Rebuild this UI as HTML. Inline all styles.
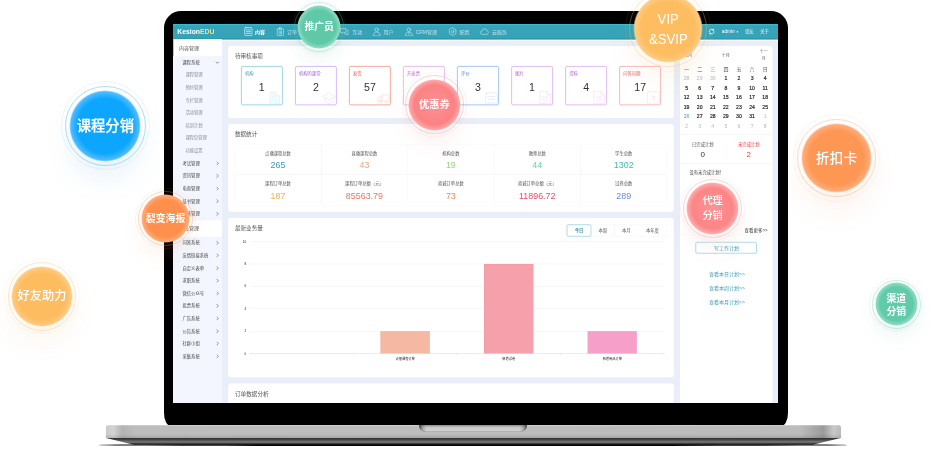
<!DOCTYPE html>
<html lang="zh-CN">
<head>
<meta charset="utf-8">
<title>KesionEDU</title>
<style>
html,body{margin:0;padding:0;background:#fff;}
body{width:934px;height:454px;overflow:hidden;position:relative;font-family:"Liberation Sans","Noto Sans CJK SC",sans-serif;}
.stage{position:absolute;left:0;top:0;width:934px;height:454px;overflow:hidden;background:#fff;}
.bezel{position:absolute;left:163.8px;top:11.3px;width:624.1px;height:414.3px;background:#000;border-radius:17px 17px 7px 7px / 17px 17px 13px 13px;}
.screen{position:absolute;left:172.9px;top:24px;width:605.3px;height:378.8px;overflow:hidden;background:#fff;}
.dash{position:absolute;left:-172.9px;top:-24px;width:3736px;height:1816px;transform:scale(.25);transform-origin:0 0;}
.a{position:absolute;}
.t{position:absolute;white-space:nowrap;}
.base{position:absolute;left:105.8px;top:425.2px;width:735px;height:13px;border-radius:2.5px 2.5px 0 0;
 background:linear-gradient(90deg,#c9c9c9 0,#d4d4d4 1%,#b3b3b3 2.2%,#bdbdbd 4%,#bcbcbc 94.5%,#9a9a9a 97.6%,#c8c8c8 99%,#bababa 100%);}
.base:before{content:"";position:absolute;left:0;right:0;top:0;height:13px;border-radius:2.5px 2.5px 0 0;
 background:linear-gradient(180deg,rgba(255,255,255,.35) 0,rgba(255,255,255,0) 12%,rgba(0,0,0,0) 70%,rgba(0,0,0,.12) 100%);}
.under{position:absolute;left:106px;top:437.9px;width:734.6px;height:6.9px;
 background:linear-gradient(180deg,#2e2e2e 0,#454545 25%,#7c7c7c 58%,#3a3a3a 80%,#050505 100%);
 clip-path:polygon(0 0,100% 0,96.2% 100%,3.8% 100%);}
.shadow{position:absolute;left:98px;top:443.9px;width:750px;height:2.6px;border-radius:50%;background:#050505;filter:blur(.5px);}
.notch{position:absolute;left:418.9px;top:425.2px;width:108px;height:6.5px;border-radius:0 0 6.5px 6.5px;
 background:linear-gradient(90deg,rgba(30,30,30,.75) 0,rgba(60,60,60,.25) 3.5%,rgba(60,60,60,0) 7%,rgba(60,60,60,0) 93%,rgba(60,60,60,.25) 96.5%,rgba(30,30,30,.75) 100%),linear-gradient(180deg,#8a8a8a 0,#c4c4c4 30%,#d3d3d3 70%,#c6c6c6 100%);box-shadow:inset 0 -0.6px .8px rgba(0,0,0,.22);}
.bub{position:absolute;border-radius:50%;color:#fff;text-align:center;display:flex;align-items:center;justify-content:center;white-space:nowrap;}
.bub b{position:absolute;border-radius:50%;border-style:solid;border-width:.8px;}
.bub .r2{border-width:1.3px;}
.bub span{position:relative;}
.bub i{font-style:normal;display:inline-block;transform:scaleX(.87);}
</style>
</head>
<body>
<div class="stage">
<div class="shadow"></div>
<div class="bezel"></div>
<div class="screen"><div class="dash">
<div class="a" style="left:691.6px;top:96px;width:2421.2px;height:1515.2px;background:#e9eef9;"></div>
<div class="a" style="left:691.6px;top:96px;width:2421.2px;height:63.4px;background:linear-gradient(180deg,#3fbdd2 0,#3cb0c6 6%,#37a3b8 11%,#37a3b8 88%,#2b96ab 93%,#2a94aa 100%);"></div>
<div class="a" style="left:691.6px;top:159.4px;width:2421.2px;height:4.6px;background:#fbfcff;"></div>
<div class="t" style="left:709.2px;top:106px;line-height:40.8px;font-size:27.2px;color:#fff;font-weight:700;"><span>Kesion</span><span style="color:#ece48a">EDU</span></div>
<svg class="a" style="left:975.6px;top:108px;opacity:1.0;" width="35.2" height="37.2" viewBox="1 0 22 24" fill="none"><rect x="2.5" y="1.5" width="19" height="21" rx="3" stroke="#fff" stroke-width="1.6" stroke-linecap="round" stroke-linejoin="round"/><path d="M6.5 7.5h11M6.5 12h11M6.5 16.5h11" stroke="#fff" stroke-width="1.6" stroke-linecap="round" stroke-linejoin="round"/></svg>
<div class="t" style="left:1020.4px;top:112.2px;line-height:30px;font-size:20px;color:#fff;font-weight:700;opacity:1.0;">内容</div>
<svg class="a" style="left:1104.4px;top:108px;opacity:0.72;" width="35.2" height="37.2" viewBox="1 0 22 24" fill="none"><rect x="4" y="5" width="16" height="17" rx="2" stroke="#fff" stroke-width="1.6" stroke-linecap="round" stroke-linejoin="round"/><rect x="9" y="2" width="6" height="5" rx="1" stroke="#fff" stroke-width="1.6" stroke-linecap="round" stroke-linejoin="round"/><path d="M9 11v7M12 11v7M15 11v7" stroke="#fff" stroke-width="1.6" stroke-linecap="round" stroke-linejoin="round"/></svg>
<div class="t" style="left:1148px;top:112.2px;line-height:30px;font-size:20px;color:#fff;font-weight:400;opacity:0.66;">订单</div>
<svg class="a" style="left:1232.4px;top:108px;opacity:0.72;" width="35.2" height="37.2" viewBox="1 0 22 24" fill="none"><path d="M5 8h14l1 13H4z" stroke="#fff" stroke-width="1.6" stroke-linecap="round" stroke-linejoin="round"/><path d="M9 8V6a3 3 0 0 1 6 0v2" stroke="#fff" stroke-width="1.6" stroke-linecap="round" stroke-linejoin="round"/></svg>
<div class="t" style="left:1277.6px;top:112.2px;line-height:30px;font-size:20px;color:#fff;font-weight:400;opacity:0.66;">课程</div>
<svg class="a" style="left:1360px;top:108px;opacity:0.72;" width="35.2" height="37.2" viewBox="1 0 22 24" fill="none"><path d="M3 4h13v10H9l-3 3v-3H3z" stroke="#fff" stroke-width="1.6" stroke-linecap="round" stroke-linejoin="round"/><path d="M19 8h3v10h-2v3l-3-3h-5" stroke="#fff" stroke-width="1.6" stroke-linecap="round" stroke-linejoin="round"/></svg>
<div class="t" style="left:1408.8px;top:112.2px;line-height:30px;font-size:20px;color:#fff;font-weight:400;opacity:0.66;">互动</div>
<svg class="a" style="left:1489.2px;top:108px;opacity:0.72;" width="35.2" height="37.2" viewBox="1 0 22 24" fill="none"><circle cx="12" cy="7" r="4.5" stroke="#fff" stroke-width="1.6" stroke-linecap="round" stroke-linejoin="round"/><path d="M3 22c0-6 4-9 9-9s9 3 9 9z" stroke="#fff" stroke-width="1.6" stroke-linecap="round" stroke-linejoin="round"/></svg>
<div class="t" style="left:1534px;top:112.2px;line-height:30px;font-size:20px;color:#fff;font-weight:400;opacity:0.66;">用户</div>
<svg class="a" style="left:1618.4px;top:108px;opacity:0.72;" width="35.2" height="37.2" viewBox="1 0 22 24" fill="none"><circle cx="12" cy="7" r="4.5" stroke="#fff" stroke-width="1.6" stroke-linecap="round" stroke-linejoin="round"/><path d="M3 22c0-6 4-9 9-9s9 3 9 9z" stroke="#fff" stroke-width="1.6" stroke-linecap="round" stroke-linejoin="round"/><path d="M12 14v5" stroke="#fff" stroke-width="1.6" stroke-linecap="round" stroke-linejoin="round"/></svg>
<div class="t" style="left:1662.8px;top:112.2px;line-height:30px;font-size:20px;color:#fff;font-weight:400;opacity:0.66;">CRM管理</div>
<svg class="a" style="left:1793.2px;top:108px;opacity:0.72;" width="35.2" height="37.2" viewBox="1 0 22 24" fill="none"><path d="M12 2l8.5 5v10L12 22l-8.5-5V7z" stroke="#fff" stroke-width="1.6" stroke-linecap="round" stroke-linejoin="round"/><circle cx="12" cy="12" r="3.4" stroke="#fff" stroke-width="1.6" stroke-linecap="round" stroke-linejoin="round"/></svg>
<div class="t" style="left:1838px;top:112.2px;line-height:30px;font-size:20px;color:#fff;font-weight:400;opacity:0.66;">配置</div>
<svg class="a" style="left:1919.6px;top:108px;opacity:0.72;" width="35.2" height="37.2" viewBox="1 0 22 24" fill="none"><path d="M6.5 19a4.5 4.5 0 0 1-.6-8.96A6.5 6.5 0 0 1 18.6 9.5 4.8 4.8 0 0 1 18 19z" stroke="#fff" stroke-width="1.6" stroke-linecap="round" stroke-linejoin="round"/></svg>
<div class="t" style="left:1968px;top:112.2px;line-height:30px;font-size:20px;color:#fff;font-weight:400;opacity:0.66;">云服务</div>
<svg class="a" style="left:2831.6px;top:111.6px;" width="28.8" height="28.8" viewBox="0 0 24 24" fill="none"><path d="M4 12a8 8 0 0 1 14-5.3M20 12a8 8 0 0 1-14 5.3" stroke="#fff" stroke-width="2.6" stroke-linecap="round"/><path d="M19 2v6h-6M5 22v-6h6" fill="#fff"/></svg>
<div class="t" style="left:2887.2px;top:112.5px;line-height:28.5px;font-size:19px;color:#fff;">admin <span style="font-size:.62em;position:relative;top:-.1em">&#9660;</span></div>
<div class="t" style="left:2980px;top:113.9px;line-height:25.8px;font-size:17.2px;color:#fff;">论坛</div>
<div class="t" style="left:3040.8px;top:113.9px;line-height:25.8px;font-size:17.2px;color:#fff;">关于</div>
<div class="a" style="left:691.6px;top:157.2px;width:196.8px;height:1454px;background:#f3f6fe;"></div>
<div class="a" style="left:691.6px;top:157.2px;width:196.8px;height:66.8px;background:#fff;"></div>
<div class="a" style="left:691.6px;top:157.2px;width:2.8px;height:66.8px;background:#37a3b8;"></div>
<div class="t" style="left:716px;top:177px;line-height:30px;font-size:20px;color:#555;">内容管理</div>
<div class="t" style="left:728.8px;top:236px;line-height:26.4px;font-size:17.6px;color:#444;">课程系统</div>
<svg class="a" style="left:861.6px;top:242px;" width="15.2" height="15.2" viewBox="0 0 12 12" fill="none"><path d="M1 4l5 5 5-5" stroke="#444" stroke-width="1.7" stroke-linecap="round" stroke-linejoin="round"/></svg>
<div class="t" style="left:741.6px;top:286.7px;line-height:25.8px;font-size:17.2px;color:#8a8f99;">课程管理</div>
<div class="t" style="left:741.6px;top:337.2px;line-height:25.8px;font-size:17.2px;color:#8a8f99;">预约管理</div>
<div class="t" style="left:741.6px;top:387.7px;line-height:25.8px;font-size:17.2px;color:#8a8f99;">专栏管理</div>
<div class="t" style="left:741.6px;top:438.1px;line-height:25.8px;font-size:17.2px;color:#8a8f99;">活动管理</div>
<div class="t" style="left:741.6px;top:488.6px;line-height:25.8px;font-size:17.2px;color:#8a8f99;">培训计划</div>
<div class="t" style="left:741.6px;top:539.1px;line-height:25.8px;font-size:17.2px;color:#8a8f99;">课程包管理</div>
<div class="t" style="left:741.6px;top:589.6px;line-height:25.8px;font-size:17.2px;color:#8a8f99;">功能设置</div>
<div class="t" style="left:730px;top:640.7px;line-height:25.8px;font-size:17.2px;color:#444;">考试管理</div>
<svg class="a" style="left:862.4px;top:646px;" width="15.2" height="15.2" viewBox="0 0 12 12" fill="none"><path d="M4 1l5 5-5 5" stroke="#444" stroke-width="1.7" stroke-linecap="round" stroke-linejoin="round"/></svg>
<div class="t" style="left:730px;top:691.1px;line-height:25.8px;font-size:17.2px;color:#444;">资讯管理</div>
<svg class="a" style="left:862.4px;top:696.4px;" width="15.2" height="15.2" viewBox="0 0 12 12" fill="none"><path d="M4 1l5 5-5 5" stroke="#444" stroke-width="1.7" stroke-linecap="round" stroke-linejoin="round"/></svg>
<div class="t" style="left:730px;top:741.5px;line-height:25.8px;font-size:17.2px;color:#444;">电商管理</div>
<svg class="a" style="left:862.4px;top:746.8px;" width="15.2" height="15.2" viewBox="0 0 12 12" fill="none"><path d="M4 1l5 5-5 5" stroke="#444" stroke-width="1.7" stroke-linecap="round" stroke-linejoin="round"/></svg>
<div class="t" style="left:730px;top:791.9px;line-height:25.8px;font-size:17.2px;color:#444;">证书管理</div>
<svg class="a" style="left:862.4px;top:797.2px;" width="15.2" height="15.2" viewBox="0 0 12 12" fill="none"><path d="M4 1l5 5-5 5" stroke="#444" stroke-width="1.7" stroke-linecap="round" stroke-linejoin="round"/></svg>
<div class="t" style="left:730px;top:842.3px;line-height:25.8px;font-size:17.2px;color:#444;">问答管理</div>
<svg class="a" style="left:862.4px;top:847.6px;" width="15.2" height="15.2" viewBox="0 0 12 12" fill="none"><path d="M4 1l5 5-5 5" stroke="#444" stroke-width="1.7" stroke-linecap="round" stroke-linejoin="round"/></svg>
<div class="a" style="left:691.6px;top:882.4px;width:196.8px;height:64.8px;background:#fff;"></div>
<div class="t" style="left:716px;top:899px;line-height:30px;font-size:20px;color:#555;">会员管理</div>
<div class="t" style="left:730px;top:958.7px;line-height:25.8px;font-size:17.2px;color:#444;">问答系统</div>
<svg class="a" style="left:862.4px;top:964px;" width="15.2" height="15.2" viewBox="0 0 12 12" fill="none"><path d="M4 1l5 5-5 5" stroke="#444" stroke-width="1.7" stroke-linecap="round" stroke-linejoin="round"/></svg>
<div class="t" style="left:730px;top:1009.1px;line-height:25.8px;font-size:17.2px;color:#444;">友情链接系统</div>
<svg class="a" style="left:862.4px;top:1014.4px;" width="15.2" height="15.2" viewBox="0 0 12 12" fill="none"><path d="M4 1l5 5-5 5" stroke="#444" stroke-width="1.7" stroke-linecap="round" stroke-linejoin="round"/></svg>
<div class="t" style="left:730px;top:1059.5px;line-height:25.8px;font-size:17.2px;color:#444;">自定义表单</div>
<svg class="a" style="left:862.4px;top:1064.8px;" width="15.2" height="15.2" viewBox="0 0 12 12" fill="none"><path d="M4 1l5 5-5 5" stroke="#444" stroke-width="1.7" stroke-linecap="round" stroke-linejoin="round"/></svg>
<div class="t" style="left:730px;top:1109.9px;line-height:25.8px;font-size:17.2px;color:#444;">求职系统</div>
<svg class="a" style="left:862.4px;top:1115.2px;" width="15.2" height="15.2" viewBox="0 0 12 12" fill="none"><path d="M4 1l5 5-5 5" stroke="#444" stroke-width="1.7" stroke-linecap="round" stroke-linejoin="round"/></svg>
<div class="t" style="left:730px;top:1160.3px;line-height:25.8px;font-size:17.2px;color:#444;">微信公众号</div>
<svg class="a" style="left:862.4px;top:1165.6px;" width="15.2" height="15.2" viewBox="0 0 12 12" fill="none"><path d="M4 1l5 5-5 5" stroke="#444" stroke-width="1.7" stroke-linecap="round" stroke-linejoin="round"/></svg>
<div class="t" style="left:730px;top:1210.7px;line-height:25.8px;font-size:17.2px;color:#444;">投票系统</div>
<svg class="a" style="left:862.4px;top:1216px;" width="15.2" height="15.2" viewBox="0 0 12 12" fill="none"><path d="M4 1l5 5-5 5" stroke="#444" stroke-width="1.7" stroke-linecap="round" stroke-linejoin="round"/></svg>
<div class="t" style="left:730px;top:1261.1px;line-height:25.8px;font-size:17.2px;color:#444;">广告系统</div>
<svg class="a" style="left:862.4px;top:1266.4px;" width="15.2" height="15.2" viewBox="0 0 12 12" fill="none"><path d="M4 1l5 5-5 5" stroke="#444" stroke-width="1.7" stroke-linecap="round" stroke-linejoin="round"/></svg>
<div class="t" style="left:730px;top:1311.5px;line-height:25.8px;font-size:17.2px;color:#444;">公告系统</div>
<svg class="a" style="left:862.4px;top:1316.8px;" width="15.2" height="15.2" viewBox="0 0 12 12" fill="none"><path d="M4 1l5 5-5 5" stroke="#444" stroke-width="1.7" stroke-linecap="round" stroke-linejoin="round"/></svg>
<div class="t" style="left:730px;top:1361.9px;line-height:25.8px;font-size:17.2px;color:#444;">社群小组</div>
<svg class="a" style="left:862.4px;top:1367.2px;" width="15.2" height="15.2" viewBox="0 0 12 12" fill="none"><path d="M4 1l5 5-5 5" stroke="#444" stroke-width="1.7" stroke-linecap="round" stroke-linejoin="round"/></svg>
<div class="t" style="left:730px;top:1412.3px;line-height:25.8px;font-size:17.2px;color:#444;">采集系统</div>
<svg class="a" style="left:862.4px;top:1417.6px;" width="15.2" height="15.2" viewBox="0 0 12 12" fill="none"><path d="M4 1l5 5-5 5" stroke="#444" stroke-width="1.7" stroke-linecap="round" stroke-linejoin="round"/></svg>
<div class="a" style="left:912.8px;top:184px;width:1782.4px;height:288.4px;background:#fff;border-radius:10px;"></div>
<div class="t" style="left:939.6px;top:208.4px;line-height:33.6px;font-size:22.4px;color:#555;">待审核事项</div>
<div class="a" style="left:963.6px;top:264px;width:167.2px;height:157.2px;box-sizing:border-box;border:3px solid #7ccad8;border-radius:7px;background:#fff;"></div>
<div class="t" style="left:979.6px;top:279.5px;line-height:25.8px;font-size:17.2px;color:#3a9fb5;">机构</div>
<div class="t" style="left:807.2px;width:480px;text-align:center;top:315.8px;line-height:63.6px;font-size:42.4px;color:#333;">1</div>
<svg class="a" style="left:1074px;top:362px;opacity:.36;" width="52.8" height="55.2" viewBox="0 0 26 26" fill="none"><path d="M3 24V3h12v21M15 10h7v14M1 24h23" stroke="#7ccad8" stroke-width="1.2" stroke-linejoin="round" stroke-linecap="round"/><path d="M6 7h2M10 7h2M6 11h2M10 11h2M6 15h2M10 15h2M6 19h2M10 19h2M18 14h1M18 18h1" stroke="#7ccad8" stroke-width="1.2" stroke-linejoin="round" stroke-linecap="round"/></svg>
<div class="a" style="left:1179.8px;top:264px;width:167.2px;height:157.2px;box-sizing:border-box;border:3px solid #c9a3f2;border-radius:7px;background:#fff;"></div>
<div class="t" style="left:1195.8px;top:279.5px;line-height:25.8px;font-size:17.2px;color:#a05ce0;">机构的课堂</div>
<div class="t" style="left:1023.4px;width:480px;text-align:center;top:315.8px;line-height:63.6px;font-size:42.4px;color:#333;">2</div>
<svg class="a" style="left:1290.2px;top:362px;opacity:.36;" width="52.8" height="55.2" viewBox="0 0 26 26" fill="none"><path d="M1 11l12-7 12 7-12 7z" stroke="#c9a3f2" stroke-width="1.2" stroke-linejoin="round" stroke-linecap="round"/><path d="M5 14v8l8 3 8-3v-8" stroke="#c9a3f2" stroke-width="1.2" stroke-linejoin="round" stroke-linecap="round"/></svg>
<div class="a" style="left:1396px;top:264px;width:167.2px;height:157.2px;box-sizing:border-box;border:3px solid #f18c7e;border-radius:7px;background:#fff;"></div>
<div class="t" style="left:1412px;top:279.5px;line-height:25.8px;font-size:17.2px;color:#ee5a48;">发货</div>
<div class="t" style="left:1239.6px;width:480px;text-align:center;top:315.8px;line-height:63.6px;font-size:42.4px;color:#333;">57</div>
<svg class="a" style="left:1506.4px;top:362px;opacity:.36;" width="52.8" height="55.2" viewBox="0 0 26 26" fill="none"><path d="M11 20V8h14v12M11 12H6l-4 5v3h3M9 20h8" stroke="#f18c7e" stroke-width="1.2" stroke-linejoin="round" stroke-linecap="round"/><circle cx="7" cy="21" r="2.6" stroke="#f18c7e" stroke-width="1.2" stroke-linejoin="round" stroke-linecap="round"/><circle cx="20" cy="21" r="2.6" stroke="#f18c7e" stroke-width="1.2" stroke-linejoin="round" stroke-linecap="round"/></svg>
<div class="a" style="left:1612.2px;top:264px;width:167.2px;height:157.2px;box-sizing:border-box;border:3px solid #e3a6e6;border-radius:7px;background:#fff;"></div>
<div class="t" style="left:1628.2px;top:279.5px;line-height:25.8px;font-size:17.2px;color:#c85fd0;">开发票</div>
<div class="t" style="left:1455.8px;width:480px;text-align:center;top:315.8px;line-height:63.6px;font-size:42.4px;color:#333;">6</div>
<svg class="a" style="left:1722.6px;top:362px;opacity:.36;" width="52.8" height="55.2" viewBox="0 0 26 26" fill="none"><path d="M3 1h13l7 7v17H3z" stroke="#e3a6e6" stroke-width="1.2" stroke-linejoin="round" stroke-linecap="round"/><path d="M16 1v7h7M7 12h11M7 16h11M7 20h11" stroke="#e3a6e6" stroke-width="1.2" stroke-linejoin="round" stroke-linecap="round"/></svg>
<div class="a" style="left:1828.4px;top:264px;width:167.2px;height:157.2px;box-sizing:border-box;border:3px solid #86b4ea;border-radius:7px;background:#fff;"></div>
<div class="t" style="left:1844.4px;top:279.5px;line-height:25.8px;font-size:17.2px;color:#4a8fe0;">评价</div>
<div class="t" style="left:1672px;width:480px;text-align:center;top:315.8px;line-height:63.6px;font-size:42.4px;color:#333;">3</div>
<svg class="a" style="left:1938.8px;top:362px;opacity:.36;" width="52.8" height="55.2" viewBox="0 0 26 26" fill="none"><rect x="1" y="4" width="24" height="20" rx="3" stroke="#86b4ea" stroke-width="1.2" stroke-linejoin="round" stroke-linecap="round"/><path d="M6 11h14M6 17h14" stroke="#86b4ea" stroke-width="1.2" stroke-linejoin="round" stroke-linecap="round"/></svg>
<div class="a" style="left:2044.6px;top:264px;width:167.2px;height:157.2px;box-sizing:border-box;border:3px solid #d7a5ea;border-radius:7px;background:#fff;"></div>
<div class="t" style="left:2060.6px;top:279.5px;line-height:25.8px;font-size:17.2px;color:#b05fd8;">图片</div>
<div class="t" style="left:1888.2px;width:480px;text-align:center;top:315.8px;line-height:63.6px;font-size:42.4px;color:#333;">1</div>
<svg class="a" style="left:2155px;top:362px;opacity:.36;" width="52.8" height="55.2" viewBox="0 0 26 26" fill="none"><path d="M3 1h13l7 7v17H3z" stroke="#d7a5ea" stroke-width="1.2" stroke-linejoin="round" stroke-linecap="round"/><path d="M16 1v7h7M7 12h11M7 16h11M7 20h11" stroke="#d7a5ea" stroke-width="1.2" stroke-linejoin="round" stroke-linecap="round"/></svg>
<div class="a" style="left:2260.8px;top:264px;width:167.2px;height:157.2px;box-sizing:border-box;border:3px solid #d7a5ea;border-radius:7px;background:#fff;"></div>
<div class="t" style="left:2276.8px;top:279.5px;line-height:25.8px;font-size:17.2px;color:#b05fd8;">资料</div>
<div class="t" style="left:2104.4px;width:480px;text-align:center;top:315.8px;line-height:63.6px;font-size:42.4px;color:#333;">4</div>
<svg class="a" style="left:2371.2px;top:362px;opacity:.36;" width="52.8" height="55.2" viewBox="0 0 26 26" fill="none"><path d="M3 1h13l7 7v17H3z" stroke="#d7a5ea" stroke-width="1.2" stroke-linejoin="round" stroke-linecap="round"/><path d="M16 1v7h7M7 12h11M7 16h11M7 20h11" stroke="#d7a5ea" stroke-width="1.2" stroke-linejoin="round" stroke-linecap="round"/></svg>
<div class="a" style="left:2477px;top:264px;width:167.2px;height:157.2px;box-sizing:border-box;border:3px solid #f3a3a6;border-radius:7px;background:#fff;"></div>
<div class="t" style="left:2493px;top:279.5px;line-height:25.8px;font-size:17.2px;color:#ee5a60;">问答问题</div>
<div class="t" style="left:2320.6px;width:480px;text-align:center;top:315.8px;line-height:63.6px;font-size:42.4px;color:#333;">17</div>
<svg class="a" style="left:2587.4px;top:362px;opacity:.36;" width="52.8" height="55.2" viewBox="0 0 26 26" fill="none"><rect x="1" y="2" width="24" height="24" rx="2" stroke="#f3a3a6" stroke-width="1.2" stroke-linejoin="round" stroke-linecap="round"/><text x="13" y="20" font-size="15" text-anchor="middle" fill="#f3a3a6" font-family="Liberation Sans,sans-serif">?</text></svg>
<div class="a" style="left:912.8px;top:496.4px;width:1782.4px;height:350.4px;background:#fff;border-radius:10px;"></div>
<div class="t" style="left:939.6px;top:520.8px;line-height:33.6px;font-size:22.4px;color:#555;">数据统计</div>
<div class="a" style="left:939.2px;top:578.8px;width:1728.4px;height:242.8px;box-sizing:border-box;border:1.6px solid #f0f1f4;"></div>
<div class="a" style="left:939.2px;top:698px;width:1728.4px;height:1.6px;background:#f0f1f4;"></div>
<div class="a" style="left:1284.1px;top:578.8px;width:1.6px;height:242.8px;background:#f0f1f4;"></div>
<div class="a" style="left:1629.8px;top:578.8px;width:1.6px;height:242.8px;background:#f0f1f4;"></div>
<div class="a" style="left:1975.4px;top:578.8px;width:1.6px;height:242.8px;background:#f0f1f4;"></div>
<div class="a" style="left:2321.1px;top:578.8px;width:1.6px;height:242.8px;background:#f0f1f4;"></div>
<div class="t" style="left:872px;width:480px;text-align:center;top:599.9px;line-height:25.8px;font-size:17.2px;color:#555;">点播课程总数</div>
<div class="t" style="left:872px;width:480px;text-align:center;top:635.3px;line-height:53.4px;font-size:35.6px;color:#3b9db4;">265</div>
<div class="t" style="left:1217.7px;width:480px;text-align:center;top:599.9px;line-height:25.8px;font-size:17.2px;color:#555;">直播课程总数</div>
<div class="t" style="left:1217.7px;width:480px;text-align:center;top:635.3px;line-height:53.4px;font-size:35.6px;color:#f0a57c;">43</div>
<div class="t" style="left:1563.4px;width:480px;text-align:center;top:599.9px;line-height:25.8px;font-size:17.2px;color:#555;">机构总数</div>
<div class="t" style="left:1563.4px;width:480px;text-align:center;top:635.3px;line-height:53.4px;font-size:35.6px;color:#98d67f;">19</div>
<div class="t" style="left:1909.1px;width:480px;text-align:center;top:599.9px;line-height:25.8px;font-size:17.2px;color:#555;">教师总数</div>
<div class="t" style="left:1909.1px;width:480px;text-align:center;top:635.3px;line-height:53.4px;font-size:35.6px;color:#6fd39b;">44</div>
<div class="t" style="left:2254.8px;width:480px;text-align:center;top:599.9px;line-height:25.8px;font-size:17.2px;color:#555;">学生总数</div>
<div class="t" style="left:2254.8px;width:480px;text-align:center;top:635.3px;line-height:53.4px;font-size:35.6px;color:#3fbfae;">1302</div>
<div class="t" style="left:872px;width:480px;text-align:center;top:721.1px;line-height:25.8px;font-size:17.2px;color:#555;">课程订单总数</div>
<div class="t" style="left:872px;width:480px;text-align:center;top:756.1px;line-height:53.4px;font-size:35.6px;color:#e9b44a;">187</div>
<div class="t" style="left:1217.7px;width:480px;text-align:center;top:721.1px;line-height:25.8px;font-size:17.2px;color:#555;">课程订单总额（元）</div>
<div class="t" style="left:1217.7px;width:480px;text-align:center;top:756.1px;line-height:53.4px;font-size:35.6px;color:#ef7462;">85563.79</div>
<div class="t" style="left:1563.4px;width:480px;text-align:center;top:721.1px;line-height:25.8px;font-size:17.2px;color:#555;">商城订单总数</div>
<div class="t" style="left:1563.4px;width:480px;text-align:center;top:756.1px;line-height:53.4px;font-size:35.6px;color:#f08a5a;">73</div>
<div class="t" style="left:1909.1px;width:480px;text-align:center;top:721.1px;line-height:25.8px;font-size:17.2px;color:#555;">商城订单总额（元）</div>
<div class="t" style="left:1909.1px;width:480px;text-align:center;top:756.1px;line-height:53.4px;font-size:35.6px;color:#ee4a66;">11896.72</div>
<div class="t" style="left:2254.8px;width:480px;text-align:center;top:721.1px;line-height:25.8px;font-size:17.2px;color:#555;">试卷总数</div>
<div class="t" style="left:2254.8px;width:480px;text-align:center;top:756.1px;line-height:53.4px;font-size:35.6px;color:#6a8cd6;">289</div>
<div class="a" style="left:912.8px;top:872.4px;width:1782.4px;height:636.4px;background:#fff;border-radius:10px;"></div>
<div class="t" style="left:939.6px;top:896.8px;line-height:33.6px;font-size:22.4px;color:#555;">最新业务量</div>
<div class="a" style="left:2267.2px;top:897.6px;width:400.4px;height:48px;box-sizing:border-box;border:1.6px solid #eef0f3;border-radius:6px;"></div>
<div class="a" style="left:2267.2px;top:897.6px;width:97.6px;height:48px;box-sizing:border-box;border:2.6px solid #62bacb;border-radius:6px;background:#fff;"></div>
<div class="t" style="left:2076px;width:480px;text-align:center;top:908.7px;line-height:25.8px;font-size:17.2px;color:#3b9db4;font-weight:700;">今日</div>
<div class="a" style="left:2364px;top:897.6px;width:1.6px;height:48px;background:#eef0f3;"></div>
<div class="t" style="left:2171.4px;width:480px;text-align:center;top:908.7px;line-height:25.8px;font-size:17.2px;color:#555;">本周</div>
<div class="a" style="left:2457.2px;top:897.6px;width:1.6px;height:48px;background:#eef0f3;"></div>
<div class="t" style="left:2264.8px;width:480px;text-align:center;top:908.7px;line-height:25.8px;font-size:17.2px;color:#555;">本月</div>
<div class="a" style="left:2550.8px;top:897.6px;width:1.6px;height:48px;background:#eef0f3;"></div>
<div class="t" style="left:2369.6px;width:480px;text-align:center;top:908.7px;line-height:25.8px;font-size:17.2px;color:#555;">本年度</div>
<div class="a" style="left:999.6px;top:965px;width:1656.4px;height:2px;background:#eceef4;"></div>
<div class="t" style="left:504.8px;width:480px;text-align:right;top:956.7px;line-height:18.6px;font-size:12.4px;color:#222;">10</div>
<div class="a" style="left:999.6px;top:1054.7px;width:1656.4px;height:2px;background:#eceef4;"></div>
<div class="t" style="left:504.8px;width:480px;text-align:right;top:1046.4px;line-height:18.6px;font-size:12.4px;color:#222;">8</div>
<div class="a" style="left:999.6px;top:1144.4px;width:1656.4px;height:2px;background:#eceef4;"></div>
<div class="t" style="left:504.8px;width:480px;text-align:right;top:1136.1px;line-height:18.6px;font-size:12.4px;color:#222;">6</div>
<div class="a" style="left:999.6px;top:1234px;width:1656.4px;height:2px;background:#eceef4;"></div>
<div class="t" style="left:504.8px;width:480px;text-align:right;top:1225.7px;line-height:18.6px;font-size:12.4px;color:#222;">4</div>
<div class="a" style="left:999.6px;top:1323.7px;width:1656.4px;height:2px;background:#eceef4;"></div>
<div class="t" style="left:504.8px;width:480px;text-align:right;top:1315.4px;line-height:18.6px;font-size:12.4px;color:#222;">2</div>
<div class="a" style="left:999.6px;top:1413.4px;width:1656.4px;height:2px;background:#d3d9ec;"></div>
<div class="t" style="left:504.8px;width:480px;text-align:right;top:1405.1px;line-height:18.6px;font-size:12.4px;color:#222;">0</div>
<div class="a" style="left:998.6px;top:1414.4px;width:2px;height:6.8px;background:#cfd6ea;"></div>
<div class="a" style="left:1412.7px;top:1414.4px;width:2px;height:6.8px;background:#cfd6ea;"></div>
<div class="a" style="left:1826.8px;top:1414.4px;width:2px;height:6.8px;background:#cfd6ea;"></div>
<div class="a" style="left:2240.9px;top:1414.4px;width:2px;height:6.8px;background:#cfd6ea;"></div>
<div class="a" style="left:2655px;top:1414.4px;width:2px;height:6.8px;background:#cfd6ea;"></div>
<div class="a" style="left:1522.3px;top:1325.3px;width:196.8px;height:89.1px;box-sizing:border-box;border:1.6px solid #f2a58c;border-bottom:0;background:#f5b9a3;"></div>
<div class="t" style="left:1380.8px;width:480px;text-align:center;top:1423.6px;line-height:19.2px;font-size:12.8px;color:#222;">点播课程订单</div>
<div class="a" style="left:1936.4px;top:1056.3px;width:196.8px;height:358.1px;box-sizing:border-box;border:1.6px solid #f28e9b;border-bottom:0;background:#f5a0ab;"></div>
<div class="t" style="left:1794.8px;width:480px;text-align:center;top:1423.6px;line-height:19.2px;font-size:12.8px;color:#222;">新增试卷</div>
<div class="a" style="left:2350.6px;top:1325.3px;width:196.8px;height:89.1px;box-sizing:border-box;border:1.6px solid #f38fbe;border-bottom:0;background:#f6a0c9;"></div>
<div class="t" style="left:2209px;width:480px;text-align:center;top:1423.6px;line-height:19.2px;font-size:12.8px;color:#222;">新增商品订单</div>
<div class="a" style="left:912.8px;top:1533.6px;width:1782.4px;height:146.4px;background:#fff;border-radius:10px;"></div>
<div class="t" style="left:940px;top:1558px;line-height:33.6px;font-size:22.4px;color:#555;">订单数据分析</div>
<div class="a" style="left:2720.4px;top:184px;width:369.2px;height:1496px;background:#fff;border-radius:10px;"></div>
<div class="t" style="left:2512px;width:480px;text-align:center;top:210.5px;line-height:24.6px;font-size:16.4px;color:#555;">九月</div>
<div class="t" style="left:2663.2px;width:480px;text-align:center;top:210.5px;line-height:24.6px;font-size:16.4px;color:#555;">十月</div>
<div class="t" style="left:2814.8px;width:480px;text-align:center;top:196.4px;line-height:24px;font-size:16px;color:#666;">十一</div>
<div class="t" style="left:2814.8px;width:480px;text-align:center;top:224.4px;line-height:24px;font-size:16px;color:#666;">月</div>
<div class="t" style="left:2506.4px;width:480px;text-align:center;top:263.4px;line-height:30px;font-size:20px;color:#555;">一</div>
<div class="t" style="left:2558.8px;width:480px;text-align:center;top:263.4px;line-height:30px;font-size:20px;color:#555;">二</div>
<div class="t" style="left:2611.1px;width:480px;text-align:center;top:263.4px;line-height:30px;font-size:20px;color:#555;">三</div>
<div class="t" style="left:2663.5px;width:480px;text-align:center;top:263.4px;line-height:30px;font-size:20px;color:#555;">四</div>
<div class="t" style="left:2715.8px;width:480px;text-align:center;top:263.4px;line-height:30px;font-size:20px;color:#555;">五</div>
<div class="t" style="left:2768.2px;width:480px;text-align:center;top:263.4px;line-height:30px;font-size:20px;color:#555;">六</div>
<div class="t" style="left:2820.6px;width:480px;text-align:center;top:263.4px;line-height:30px;font-size:20px;color:#555;">日</div>
<div class="t" style="left:2506.4px;width:480px;text-align:center;top:298.3px;line-height:30.6px;font-size:20.4px;color:#b4b8c0;">28</div>
<div class="t" style="left:2558.8px;width:480px;text-align:center;top:298.3px;line-height:30.6px;font-size:20.4px;color:#b4b8c0;">29</div>
<div class="t" style="left:2611.1px;width:480px;text-align:center;top:298.3px;line-height:30.6px;font-size:20.4px;color:#b4b8c0;">30</div>
<div class="t" style="left:2663.5px;width:480px;text-align:center;top:298.3px;line-height:30.6px;font-size:20.4px;color:#222;-webkit-text-stroke:.7px #222;">1</div>
<div class="t" style="left:2715.8px;width:480px;text-align:center;top:298.3px;line-height:30.6px;font-size:20.4px;color:#222;-webkit-text-stroke:.7px #222;">2</div>
<div class="t" style="left:2768.2px;width:480px;text-align:center;top:298.3px;line-height:30.6px;font-size:20.4px;color:#222;-webkit-text-stroke:.7px #222;">3</div>
<div class="t" style="left:2820.6px;width:480px;text-align:center;top:298.3px;line-height:30.6px;font-size:20.4px;color:#222;-webkit-text-stroke:.7px #222;">4</div>
<div class="t" style="left:2506.4px;width:480px;text-align:center;top:336.2px;line-height:30.6px;font-size:20.4px;color:#222;-webkit-text-stroke:.7px #222;">5</div>
<div class="t" style="left:2558.8px;width:480px;text-align:center;top:336.2px;line-height:30.6px;font-size:20.4px;color:#222;-webkit-text-stroke:.7px #222;">6</div>
<div class="t" style="left:2611.1px;width:480px;text-align:center;top:336.2px;line-height:30.6px;font-size:20.4px;color:#222;-webkit-text-stroke:.7px #222;">7</div>
<div class="t" style="left:2663.5px;width:480px;text-align:center;top:336.2px;line-height:30.6px;font-size:20.4px;color:#222;-webkit-text-stroke:.7px #222;">8</div>
<div class="t" style="left:2715.8px;width:480px;text-align:center;top:336.2px;line-height:30.6px;font-size:20.4px;color:#222;-webkit-text-stroke:.7px #222;">9</div>
<div class="t" style="left:2768.2px;width:480px;text-align:center;top:336.2px;line-height:30.6px;font-size:20.4px;color:#222;-webkit-text-stroke:.7px #222;">10</div>
<div class="t" style="left:2820.6px;width:480px;text-align:center;top:336.2px;line-height:30.6px;font-size:20.4px;color:#222;-webkit-text-stroke:.7px #222;">11</div>
<div class="t" style="left:2506.4px;width:480px;text-align:center;top:374.1px;line-height:30.6px;font-size:20.4px;color:#222;-webkit-text-stroke:.7px #222;">12</div>
<div class="t" style="left:2558.8px;width:480px;text-align:center;top:374.1px;line-height:30.6px;font-size:20.4px;color:#222;-webkit-text-stroke:.7px #222;">13</div>
<div class="t" style="left:2611.1px;width:480px;text-align:center;top:374.1px;line-height:30.6px;font-size:20.4px;color:#222;-webkit-text-stroke:.7px #222;">14</div>
<div class="t" style="left:2663.5px;width:480px;text-align:center;top:374.1px;line-height:30.6px;font-size:20.4px;color:#222;-webkit-text-stroke:.7px #222;">15</div>
<div class="t" style="left:2715.8px;width:480px;text-align:center;top:374.1px;line-height:30.6px;font-size:20.4px;color:#222;-webkit-text-stroke:.7px #222;">16</div>
<div class="t" style="left:2768.2px;width:480px;text-align:center;top:374.1px;line-height:30.6px;font-size:20.4px;color:#222;-webkit-text-stroke:.7px #222;">17</div>
<div class="t" style="left:2820.6px;width:480px;text-align:center;top:374.1px;line-height:30.6px;font-size:20.4px;color:#222;-webkit-text-stroke:.7px #222;">18</div>
<div class="t" style="left:2506.4px;width:480px;text-align:center;top:411.9px;line-height:30.6px;font-size:20.4px;color:#222;-webkit-text-stroke:.7px #222;">19</div>
<div class="t" style="left:2558.8px;width:480px;text-align:center;top:411.9px;line-height:30.6px;font-size:20.4px;color:#222;-webkit-text-stroke:.7px #222;">20</div>
<div class="t" style="left:2611.1px;width:480px;text-align:center;top:411.9px;line-height:30.6px;font-size:20.4px;color:#222;-webkit-text-stroke:.7px #222;">21</div>
<div class="t" style="left:2663.5px;width:480px;text-align:center;top:411.9px;line-height:30.6px;font-size:20.4px;color:#222;-webkit-text-stroke:.7px #222;">22</div>
<div class="t" style="left:2715.8px;width:480px;text-align:center;top:411.9px;line-height:30.6px;font-size:20.4px;color:#222;-webkit-text-stroke:.7px #222;">23</div>
<div class="t" style="left:2768.2px;width:480px;text-align:center;top:411.9px;line-height:30.6px;font-size:20.4px;color:#222;-webkit-text-stroke:.7px #222;">24</div>
<div class="t" style="left:2820.6px;width:480px;text-align:center;top:411.9px;line-height:30.6px;font-size:20.4px;color:#222;-webkit-text-stroke:.7px #222;">25</div>
<div class="t" style="left:2506.4px;width:480px;text-align:center;top:449.8px;line-height:30.6px;font-size:20.4px;color:#3b9db4;">26</div>
<div class="t" style="left:2558.8px;width:480px;text-align:center;top:449.8px;line-height:30.6px;font-size:20.4px;color:#222;-webkit-text-stroke:.7px #222;">27</div>
<div class="t" style="left:2611.1px;width:480px;text-align:center;top:449.8px;line-height:30.6px;font-size:20.4px;color:#222;-webkit-text-stroke:.7px #222;">28</div>
<div class="t" style="left:2663.5px;width:480px;text-align:center;top:449.8px;line-height:30.6px;font-size:20.4px;color:#222;-webkit-text-stroke:.7px #222;">29</div>
<div class="t" style="left:2715.8px;width:480px;text-align:center;top:449.8px;line-height:30.6px;font-size:20.4px;color:#222;-webkit-text-stroke:.7px #222;">30</div>
<div class="t" style="left:2768.2px;width:480px;text-align:center;top:449.8px;line-height:30.6px;font-size:20.4px;color:#222;-webkit-text-stroke:.7px #222;">31</div>
<div class="t" style="left:2820.6px;width:480px;text-align:center;top:449.8px;line-height:30.6px;font-size:20.4px;color:#b4b8c0;">1</div>
<div class="t" style="left:2506.4px;width:480px;text-align:center;top:487.7px;line-height:30.6px;font-size:20.4px;color:#b4b8c0;">2</div>
<div class="t" style="left:2558.8px;width:480px;text-align:center;top:487.7px;line-height:30.6px;font-size:20.4px;color:#b4b8c0;">3</div>
<div class="t" style="left:2611.1px;width:480px;text-align:center;top:487.7px;line-height:30.6px;font-size:20.4px;color:#b4b8c0;">4</div>
<div class="t" style="left:2663.5px;width:480px;text-align:center;top:487.7px;line-height:30.6px;font-size:20.4px;color:#b4b8c0;">5</div>
<div class="t" style="left:2715.8px;width:480px;text-align:center;top:487.7px;line-height:30.6px;font-size:20.4px;color:#b4b8c0;">6</div>
<div class="t" style="left:2768.2px;width:480px;text-align:center;top:487.7px;line-height:30.6px;font-size:20.4px;color:#b4b8c0;">7</div>
<div class="t" style="left:2820.6px;width:480px;text-align:center;top:487.7px;line-height:30.6px;font-size:20.4px;color:#b4b8c0;">8</div>
<div class="a" style="left:2720.4px;top:537.2px;width:369.2px;height:1.6px;background:#eef0f4;"></div>
<div class="t" style="left:2571.2px;width:480px;text-align:center;top:563.9px;line-height:25.8px;font-size:17.2px;color:#555;">已完成计划</div>
<div class="t" style="left:2571.2px;width:480px;text-align:center;top:593.2px;line-height:48px;font-size:32px;color:#333;">0</div>
<div class="t" style="left:2755.2px;width:480px;text-align:center;top:563.9px;line-height:25.8px;font-size:17.2px;color:#ee3b3b;">未完成计划</div>
<div class="t" style="left:2755.2px;width:480px;text-align:center;top:593.2px;line-height:48px;font-size:32px;color:#ee3b3b;">2</div>
<div class="a" style="left:2904.8px;top:558px;width:1.6px;height:76px;background:#eef0f4;"></div>
<div class="a" style="left:2720.4px;top:652.4px;width:369.2px;height:1.6px;background:#eef0f4;"></div>
<div class="t" style="left:2758px;top:677.5px;line-height:25.8px;font-size:17.2px;color:#444;">没有未完成计划！</div>
<div class="t" style="left:2590.4px;width:480px;text-align:right;top:908.2px;line-height:26.7px;font-size:17.8px;color:#333;">查看更多&gt;&gt;</div>
<div class="a" style="left:2720.4px;top:940.8px;width:369.2px;height:1.6px;background:#eef0f4;"></div>
<div class="a" style="left:2782px;top:967.6px;width:245.2px;height:46.4px;box-sizing:border-box;border:2.6px solid #62bacb;border-radius:6px;"></div>
<div class="t" style="left:2665.6px;width:480px;text-align:center;top:976.2px;line-height:30px;font-size:20px;color:#3b9db4;">写工作计划</div>
<div class="t" style="left:2668px;width:480px;text-align:center;top:1081.4px;line-height:30px;font-size:20px;color:#3b9db4;">查看本日计划&gt;&gt;</div>
<div class="t" style="left:2668px;width:480px;text-align:center;top:1138px;line-height:30px;font-size:20px;color:#3b9db4;">查看本周计划&gt;&gt;</div>
<div class="t" style="left:2668px;width:480px;text-align:center;top:1194.6px;line-height:30px;font-size:20px;color:#3b9db4;">查看本月计划&gt;&gt;</div>
</div></div>
<div class="under"></div>
<div class="base"></div>
<div class="notch"></div>
<div class="bub b1" style="left:69.35px;top:89.8px;width:72px;height:72px;background:radial-gradient(closest-side,#0ca5ff 0,#0ca5ff 76%,#4ebcff 95%,rgba(78,188,255,0) 100%);box-shadow:0 17.6px 33.3px -4.9px rgba(26,120,200,.12);font-size:14.3px;font-weight:500;line-height:17.875px;-webkit-text-stroke:.25px #fff;"><b style="border-color:rgba(12,165,255,0.34);left:-4.24px;top:-4.24px;right:-4.24px;bottom:-4.24px"></b><b class="r2" style="border-color:rgba(12,165,255,0.09);left:-8.52px;top:-8.52px;right:-8.52px;bottom:-8.52px"></b><span style="top:1px">课程分销</span></div>
<div class="bub b2" style="left:297.15px;top:5.05px;width:43.9px;height:43.9px;background:radial-gradient(closest-side,#5fc9a7 0,#5fc9a7 76%,#8adcc1 95%,rgba(138,220,193,0) 100%);box-shadow:0 10.7px 20.3px -3px rgba(60,160,130,.12);font-size:9.8px;font-weight:700;line-height:12.25px;"><b style="border-color:rgba(95,201,167,0.34);left:-2.74px;top:-2.74px;right:-2.74px;bottom:-2.74px"></b><b class="r2" style="border-color:rgba(95,201,167,0.09);left:-5.45px;top:-5.45px;right:-5.45px;bottom:-5.45px"></b><span style="top:0.5px">推广员</span></div>
<div class="bub b3" style="left:633.23px;top:-6.17px;width:69.54px;height:69.54px;background:radial-gradient(closest-side,#fdbd60 0,#fdbd60 76%,#fecb80 95%,rgba(254,203,128,0) 100%);box-shadow:0 16.9px 32.2px -4.7px rgba(220,150,60,.12);font-size:15.2px;font-weight:400;line-height:19.8px;"><b style="border-color:rgba(253,189,96,0.34);left:-4.11px;top:-4.11px;right:-4.11px;bottom:-4.11px"></b><b class="r2" style="border-color:rgba(253,189,96,0.09);left:-8.26px;top:-8.26px;right:-8.26px;bottom:-8.26px"></b><span style="top:0.2px"><i>VIP</i><br><i>&amp;SVIP</i></span></div>
<div class="bub b4" style="left:408.45px;top:78.65px;width:52.1px;height:52.1px;background:radial-gradient(closest-side,#fc9193 0,#fb8284 76%,#fda6a6 95%,rgba(253,166,166,0) 100%);box-shadow:0 12.7px 24.1px -3.6px rgba(230,100,100,.12);font-size:10.3px;font-weight:700;line-height:12.875px;"><b style="border-color:rgba(251,130,132,0.34);left:-3.18px;top:-3.18px;right:-3.18px;bottom:-3.18px"></b><b class="r2" style="border-color:rgba(251,130,132,0.09);left:-6.35px;top:-6.35px;right:-6.35px;bottom:-6.35px"></b><span style="top:0.7px">优惠券</span></div>
<div class="bub b5" style="left:801.22px;top:122.72px;width:70.56px;height:70.56px;background:radial-gradient(closest-side,#fe9654 0,#fe9654 76%,#ffac78 95%,rgba(255,172,120,0) 100%);box-shadow:0 17.2px 32.7px -4.8px rgba(230,120,60,.12);font-size:13.8px;font-weight:500;line-height:17.25px;"><b style="border-color:rgba(254,150,84,0.34);left:-4.16px;top:-4.16px;right:-4.16px;bottom:-4.16px"></b><b class="r2" style="border-color:rgba(254,150,84,0.09);left:-8.37px;top:-8.37px;right:-8.37px;bottom:-8.37px"></b><span style="top:0.3px">折扣卡</span></div>
<div class="bub b6" style="left:686.45px;top:182.25px;width:52.31px;height:52.31px;background:radial-gradient(closest-side,#fc9395 0,#fb8587 76%,#fdaaaa 95%,rgba(253,170,170,0) 100%);box-shadow:0 12.8px 24.2px -3.6px rgba(230,100,100,.12);font-size:10.2px;font-weight:500;line-height:14.6px;"><b style="border-color:rgba(251,133,135,0.34);left:-3.19px;top:-3.19px;right:-3.19px;bottom:-3.19px"></b><b class="r2" style="border-color:rgba(251,133,135,0.09);left:-6.37px;top:-6.37px;right:-6.37px;bottom:-6.37px"></b><span style="top:0.6px">代理<br>分销</span></div>
<div class="bub b7" style="left:140.88px;top:193.58px;width:49.44px;height:49.44px;background:radial-gradient(closest-side,#fe8f4c 0,#fe8f4c 76%,#ffac78 95%,rgba(255,172,120,0) 100%);box-shadow:0 12.1px 22.9px -3.4px rgba(230,120,60,.12);font-size:9.9px;font-weight:700;line-height:12.375px;"><b style="border-color:rgba(254,143,76,0.34);left:-3.04px;top:-3.04px;right:-3.04px;bottom:-3.04px"></b><b class="r2" style="border-color:rgba(254,143,76,0.09);left:-6.06px;top:-6.06px;right:-6.06px;bottom:-6.06px"></b><span style="top:0.6px">裂变海报</span></div>
<div class="bub b8" style="left:11.33px;top:265.63px;width:61.33px;height:61.33px;background:radial-gradient(closest-side,#fdbc60 0,#fdbc60 76%,#fecb80 95%,rgba(254,203,128,0) 100%);box-shadow:0 14.9px 28.4px -4.2px rgba(220,150,60,.12);font-size:12.2px;font-weight:500;line-height:15.25px;"><b style="border-color:rgba(253,188,96,0.34);left:-3.67px;top:-3.67px;right:-3.67px;bottom:-3.67px"></b><b class="r2" style="border-color:rgba(253,188,96,0.09);left:-7.36px;top:-7.36px;right:-7.36px;bottom:-7.36px"></b><span style="top:0.3px">好友助力</span></div>
<div class="bub b9" style="left:874.56px;top:282.36px;width:43.49px;height:43.49px;background:radial-gradient(closest-side,#61caa9 0,#61caa9 76%,#8edcc3 95%,rgba(142,220,195,0) 100%);box-shadow:0 10.6px 20.1px -3px rgba(60,160,130,.12);font-size:9.85px;font-weight:700;line-height:12.5px;"><b style="border-color:rgba(97,202,169,0.34);left:-2.72px;top:-2.72px;right:-2.72px;bottom:-2.72px"></b><b class="r2" style="border-color:rgba(97,202,169,0.09);left:-5.41px;top:-5.41px;right:-5.41px;bottom:-5.41px"></b><span style="top:1.5px">渠道<br>分销</span></div>
</div>
</body>
</html>
